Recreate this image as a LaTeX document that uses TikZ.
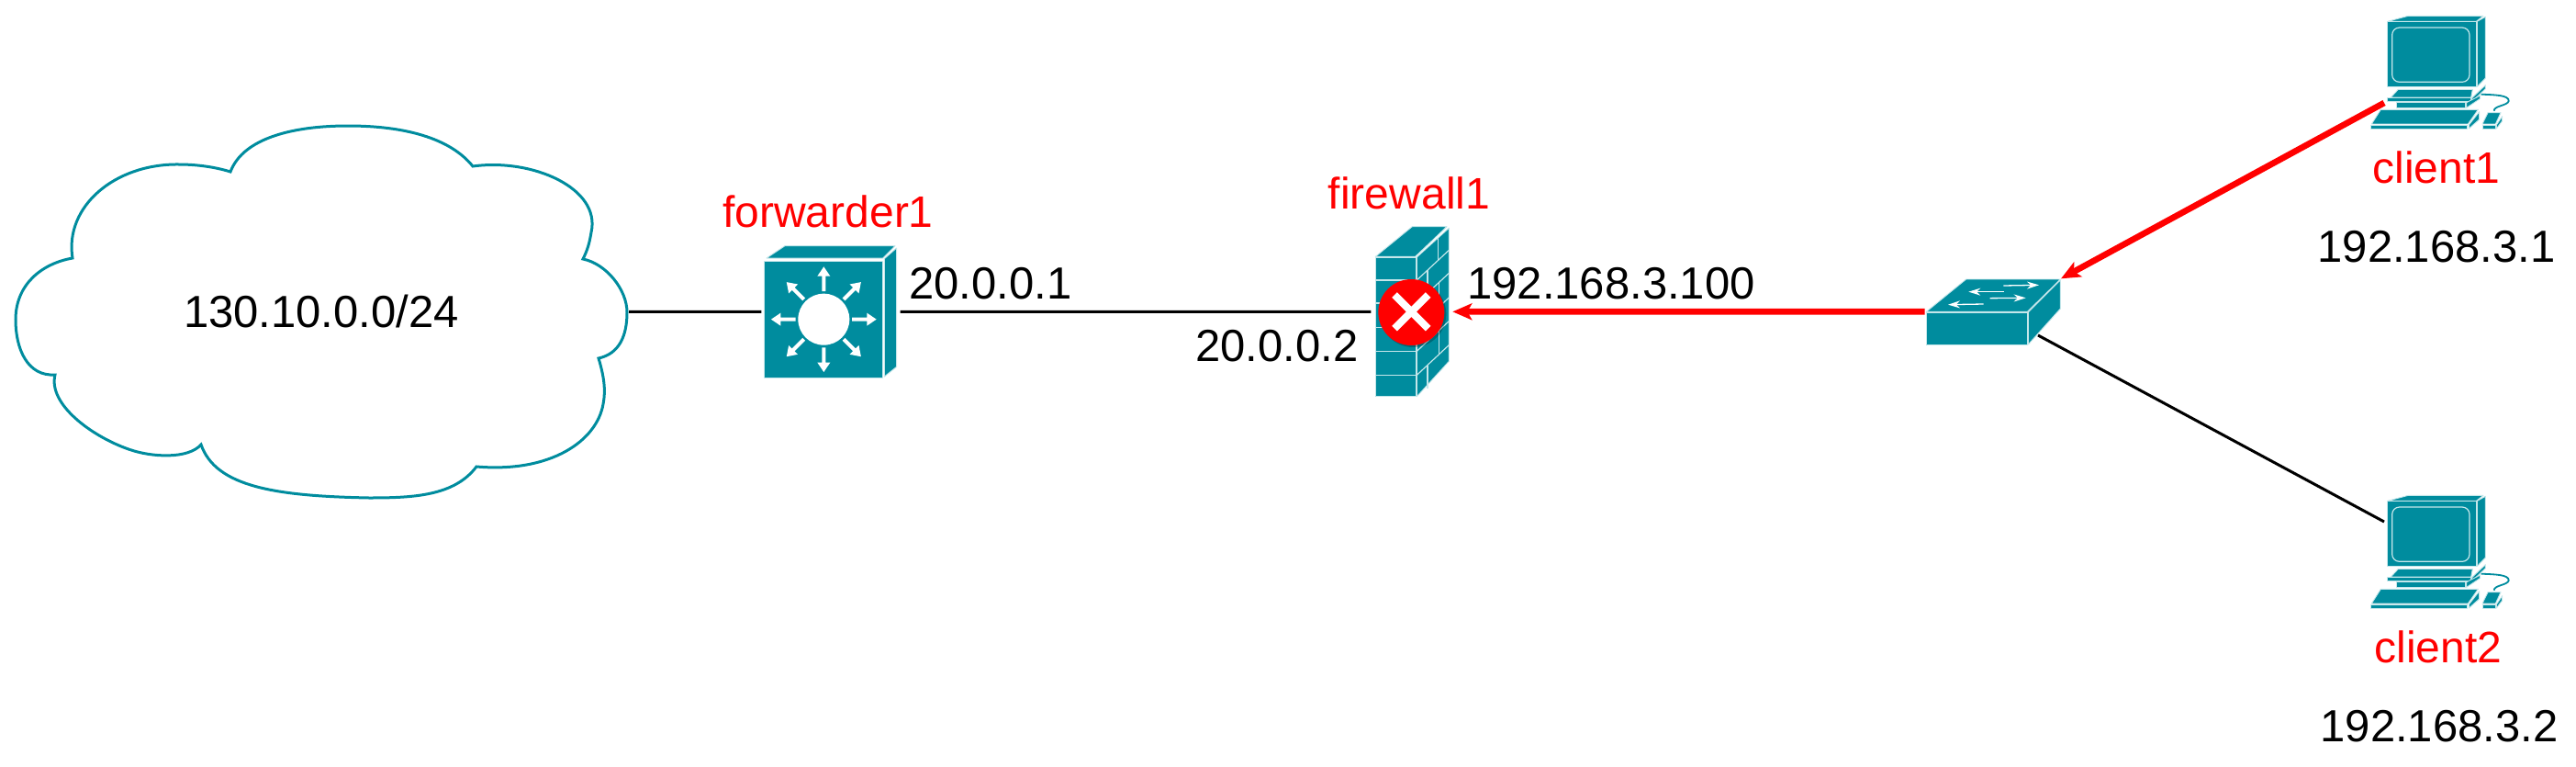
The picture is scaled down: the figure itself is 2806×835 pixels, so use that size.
\documentclass[tikz,border=0pt]{standalone}
\usepackage{xcolor}
\usepackage{fontspec}
\setmainfont{Liberation Sans}
\usepackage{tikz}
\usetikzlibrary{calc}
\usetikzlibrary{arrows.meta}
\definecolor{devteal}{HTML}{008C9E}
\definecolor{devedge}{HTML}{C4E6EA}
\tikzset{
	face/.style={fill=devteal,draw=devedge,line width=0.9pt,line join=round},
	seam/.style={draw=devedge,line width=1.2pt},
	lbl/.style={anchor=base,inner sep=0pt,font=\fontsize{49}{59}\selectfont},
	devlbl/.style={anchor=base,inner sep=0pt,text=red,font=\fontsize{48}{58}\selectfont},
	link/.style={black,line width=3pt},
	redlink/.style={red,line width=6.7pt,-{Stealth[length=21pt,width=18pt,inset=5pt]}},
	router/.pic={
		\begin{scope}[scale=1/3]
			\draw[face] (165,243)--(225,203)--(585,203)--(545,243)--cycle;
			\draw[face] (550,245)--(590,210)--(590,598)--(550,630)--cycle;
			\draw[face] (157,253) rectangle (543,633);
			\fill[white] (352,443) circle[radius=84];
			\foreach \a in {0,45,...,315}
				\fill[white,shift={(352,443)},rotate=\a] (92,-6)--(141,-6)--(141,-21)--(172,0)--(141,21)--(141,6)--(92,6)--cycle;
			\coordinate (-w) at (148,418);
			\coordinate (-e) at (602,418);
		\end{scope}
	},
	wall/.pic={
		\begin{scope}[scale=1/3]
			\draw[face] (175,178)--(295,80)--(408,80)--(305,178)--cycle;
			\draw[face] (310,180)--(415,85)--(415,520)--(310,635)--cycle;
			\draw[face] (175,180) rectangle (307,635);
			\foreach \y in {255,330,410,487,565}
				\draw[seam] (175,\y)--(307,\y);
			\foreach \y in {255,330,410,487,565}
				\draw[seam] (310,\y)--(415,{\y-98});
			\foreach \x/\y in {380/180,345/255,383/330,345/410,383/487,345/565}
				\draw[seam] (\x,{\y-0.92*(\x-310)})--(\x,{\y+77-0.92*(\x-310)});
			\fill[black,opacity=0.25] (298,366) circle[radius=108];
			\fill[red] (292,360) circle[radius=108];
			\draw[white,line width=8pt] (237,303)--(347,413) (347,303)--(237,413);
			\coordinate (-w) at (160,358);
			\coordinate (-e) at (427,358);
		\end{scope}
	},
	switch/.pic={
		\begin{scope}[scale=1/3]
			\draw[face] (205,208)--(335,102)--(643,102)--(535,208)--cycle;
			\draw[face] (538,210)--(643,105)--(643,198)--(538,315)--cycle;
			\draw[face] (205,212) rectangle (535,317);
			\draw[white,line width=1.3pt,-{Stealth[length=13pt,width=8pt]}] (457,123)--(573,121);
			\draw[white,line width=1.3pt,-{Stealth[length=13pt,width=8pt]}] (458,143)--(343,143);
			\draw[white,line width=1.3pt,-{Stealth[length=13pt,width=8pt]}] (413,164)--(530,163);
			\draw[white,line width=1.3pt,-{Stealth[length=13pt,width=8pt]}] (392,183)--(276,185);
			\coordinate (-w) at (200,208);
			\coordinate (-ne) at (645,100);
			\coordinate (-se) at (570,285);
		\end{scope}
	},
	pc/.pic={
		\begin{scope}[scale=1/3]
			\draw[face] (122,70)--(190,52)--(435,52)--(412,70)--cycle;
			\draw[face] (415,70)--(442,55)--(442,255)--(415,283)--cycle;
			\draw[face] (122,70) rectangle (412,283);
			\draw[seam,rounded corners=8pt] (137,90) rectangle (390,268);
			\draw[face] (157,292)--(400,292)--(395,318)--(133,318)--cycle;
			\draw[face] (398,320)--(442,278)--(442,290)--(398,332)--cycle;
			\draw[face] (122,320) rectangle (395,332);
			\draw[face] (380,335)--(425,312)--(425,322)--(380,352)--cycle;
			\draw[face] (150,335) rectangle (377,352);
			\draw[face] (100,358)--(418,358)--(385,405)--(70,405)--cycle;
			\draw[face] (388,408)--(422,365)--(422,390)--(388,420)--cycle;
			\draw[face] (68,408) rectangle (383,421);
			\draw[devteal,line width=1.8pt] (428,308) .. controls (470,310) and (520,310) .. (518,330) .. controls (515,345) and (470,345) .. (470,362);
			\draw[face] (450,368)--(492,368)--(475,405)--(432,405)--cycle;
			\draw[face] (478,408)--(497,380)--(497,395)--(478,420)--cycle;
			\draw[face] (432,408) rectangle (475,420);
			\coordinate (-low) at (111,336);
			\coordinate (-high) at (111,138);
		\end{scope}
	}
}
\begin{document}
\begin{tikzpicture}[x=1pt,y=-1pt]
	\useasboundingbox (0,0) rectangle (2806,835);
	\draw[devteal,line width=3pt,line join=miter] (251,187) .. controls (265,150) and (320,137) .. (379,137) .. controls (440,137) and (490,150) .. (515,181) .. controls (580,172) and (655,205) .. (644,253) .. controls (642,265) and (640,272) .. (635,282) .. controls (660,287) and (683,315) .. (683,340) .. controls (683,365) and (675,385) .. (652,390) .. controls (658,410) and (660,425) .. (657,440) .. controls (650,480) and (600,515) .. (519,508) .. controls (495,540) and (450,542) .. (402,542) .. controls (300,540) and (235,530) .. (219,484) .. controls (205,500) and (165,498) .. (140,489) .. controls (100,475) and (52,440) .. (60,408) .. controls (30,410) and (17,380) .. (17,348) .. controls (17,310) and (45,287) .. (79,281) .. controls (70,225) and (125,178) .. (195,179) .. controls (215,179) and (235,182) .. (251,187) -- cycle;
	\node[inner sep=0pt,minimum width=670pt,minimum height=400pt,font=\fontsize{49}{59}\selectfont] (subnet) at (350,339.3) {130.10.0.0/24};
	\pic (forwarder) at (780,200) {router};
	\pic (firewall) at (1440,220) {wall};
	\pic (hub) at (2030,270) {switch};
	\pic (pca) at (2560,0) {pc};
	\pic (pcb) at (2560,522) {pc};
	\node[devlbl] (forwarder1) at (902,247) {forwarder1};
	\node[devlbl] (firewall1) at (1535,227) {firewall1};
	\node[devlbl] (client1) at (2654,199) {client1};
	\node[devlbl] (client2) at (2656,721) {client2};
	\node[lbl] (ipa) at (1079,325) {20.0.0.1};
	\node[lbl] (ipb) at (1391,393) {20.0.0.2};
	\node[lbl] (ipc) at (1755,325) {192.168.3.100};
	\node[lbl] (ipd) at (2654,285) {192.168.3.1};
	\node[lbl] (ipe) at (2657,807) {192.168.3.2};
	\draw[link] (subnet.east)--(forwarder-w);
	\draw[link] (forwarder-e)--(firewall-w);
	\draw[link] (hub-se)--(pcb-high);
	\draw[redlink] (hub-w)--(firewall-e);
	\draw[redlink] (pca-low)--(hub-ne);
\end{tikzpicture}
\end{document}
